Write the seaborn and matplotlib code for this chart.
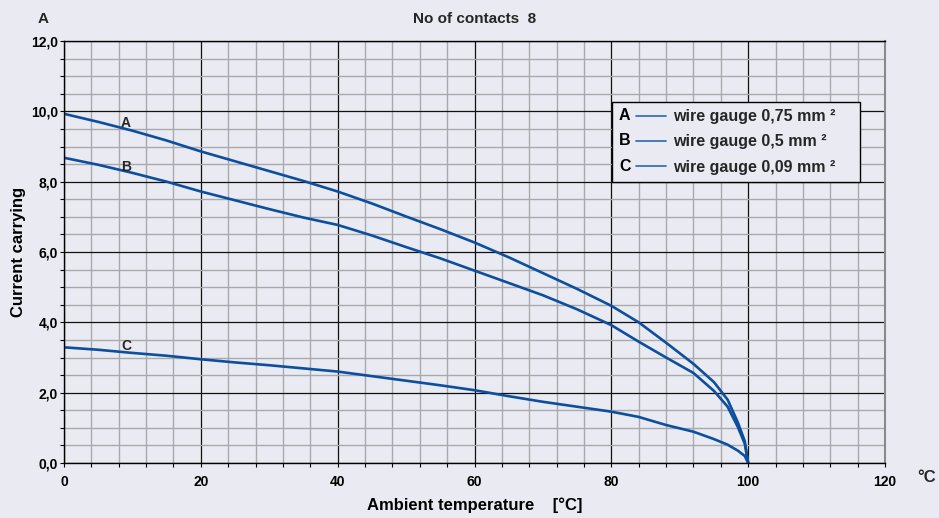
import numpy as np
import pandas as pd
import matplotlib
matplotlib.use('Agg')
import matplotlib.pyplot as plt
import seaborn as sns
from matplotlib.lines import Line2D
from matplotlib.legend_handler import HandlerLine2D
from matplotlib.text import Text
from matplotlib.ticker import MultipleLocator

# 数据：环境温度与载流能力
temperature = [0, 5, 10, 15, 20, 25, 30, 35, 40, 45, 50, 55, 60, 65, 70, 75,
               80, 84, 88, 92, 95, 97, 98.5, 99.5, 100]
current_a = [9.93, 9.70, 9.45, 9.17, 8.86, 8.58, 8.30, 8.02, 7.72, 7.38, 7.01,
             6.65, 6.27, 5.85, 5.40, 4.95, 4.47, 4.00, 3.42, 2.82, 2.30, 1.80,
             1.15, 0.62, 0.0]
current_b = [8.68, 8.48, 8.25, 8.00, 7.72, 7.47, 7.22, 6.98, 6.77, 6.47, 6.14,
             5.82, 5.47, 5.12, 4.77, 4.37, 3.92, 3.45, 3.00, 2.56, 2.05, 1.60,
             1.02, 0.55, 0.0]
current_c = [3.29, 3.22, 3.13, 3.05, 2.95, 2.86, 2.78, 2.69, 2.60, 2.47, 2.34,
             2.21, 2.07, 1.90, 1.74, 1.60, 1.46, 1.31, 1.08, 0.89, 0.68, 0.52,
             0.35, 0.20, 0.0]
curve_names = ['A', 'B', 'C']
legend_labels = ['wire gauge 0,75 mm \u00b2', 'wire gauge 0,5 mm \u00b2',
                 'wire gauge 0,09 mm \u00b2']
x_ticks = [0, 20, 40, 60, 80, 100, 120]
y_ticks = [0, 2, 4, 6, 8, 10, 12]
y_tick_labels = ['0,0', '2,0', '4,0', '6,0', '8,0', '10,0', '12,0']

BG = '#eaeaf2'
LINE = '#0b4f9e'
LEG_LINE = '#3a72b8'

df = pd.DataFrame({
    'temperature': temperature * 3,
    'current': current_a + current_b + current_c,
    'curve': [n for n in curve_names for _ in temperature],
})


class LetterLine(HandlerLine2D):
    """图例：字母 + 短线"""

    def __init__(self, letter, **kw):
        super().__init__(**kw)
        self.letter = letter

    def create_artists(self, legend, orig_handle, xdescent, ydescent, width,
                       height, fontsize, trans):
        start = 0.36 * width
        artists = super().create_artists(legend, orig_handle, xdescent - start,
                                         ydescent, width - start, height,
                                         fontsize, trans)
        label = Text(-xdescent + 0.12 * width, (height - ydescent) / 2,
                     self.letter, ha='center', va='center',
                     fontsize=fontsize, fontweight='bold', color='black')
        label.set_transform(trans)
        return artists + [label]


sns.set_theme(style='darkgrid')
plt.rcParams['font.family'] = ['Liberation Sans', 'DejaVu Sans']
plt.rcParams['font.weight'] = 'bold'
plt.rcParams['axes.labelweight'] = 'bold'

fig = plt.figure(figsize=(9.39, 5.18), dpi=100, facecolor=BG)
ax = fig.add_axes([64 / 939, 1 - 463 / 518, 821 / 939, 422 / 518])
ax.set_facecolor(BG)

sns.lineplot(data=df, x='temperature', y='current', hue='curve',
             palette=[LINE] * 3, estimator=None, sort=False, lw=1.9,
             legend=False, ax=ax)

ax.set_xlim(0, 120)
ax.set_ylim(0, 12)
ax.set_xticks(x_ticks)
ax.set_xticklabels([str(t) for t in x_ticks])
ax.set_yticks(y_ticks)
ax.set_yticklabels(y_tick_labels)
ax.xaxis.set_minor_locator(MultipleLocator(4))
ax.yaxis.set_minor_locator(MultipleLocator(0.5))

ax.grid(which='major', color='#111111', lw=0.9)
ax.grid(which='minor', color='#a9a9ad', lw=1.0)
ax.set_axisbelow(True)
for side in ['left', 'bottom', 'top']:
    ax.spines[side].set_visible(True)
    ax.spines[side].set_color('black')
    ax.spines[side].set_linewidth(1.0)
ax.spines['right'].set_visible(True)
ax.spines['right'].set_color('#8a8a8a')
ax.spines['right'].set_linewidth(1.5)

ax.tick_params(which='both', direction='out', length=3, width=0.8,
               color='black', bottom=True, left=True, labelsize=10,
               labelcolor='black')
ax.tick_params(axis='x', which='both', pad=5.5)
ax.tick_params(axis='y', which='both', pad=1.5)
for lab in ax.get_xticklabels() + ax.get_yticklabels():
    lab.set_fontweight('bold')

ax.set_xlabel('Ambient temperature    [°C]', fontsize=12, color='black')
ax.xaxis.set_label_coords(0.5, (463 - 505) / 422)
ax.xaxis.label.set_va('center')
ax.set_ylabel('Current carrying', fontsize=12, color='black')
ax.yaxis.set_label_coords((19 - 64) / 821, 0.5)
ax.yaxis.label.set_va('center')

ax.text(0.5, (463 - 19) / 422, 'No of contacts  8', transform=ax.transAxes,
        ha='center', va='center', fontsize=11, fontweight='bold')
ax.text((43 - 64) / 821, (463 - 19) / 422, 'A', transform=ax.transAxes,
        ha='center', va='center', fontsize=11, fontweight='bold')
ax.text((927 - 64) / 821, (463 - 477) / 422, '°C', transform=ax.transAxes,
        ha='center', va='center', fontsize=12, fontweight='bold')

# 曲线标注
ax.text(9.06, 9.67, 'A', ha='center', va='center', fontsize=10, fontweight='bold')
ax.text(9.06, 8.42, 'B', ha='center', va='center', fontsize=10, fontweight='bold')
ax.text(9.06, 3.34, 'C', ha='center', va='center', fontsize=10, fontweight='bold')

handles = [Line2D([], [], color=LEG_LINE, lw=1.3) for _ in curve_names]
handler_map = {h: LetterLine(n) for h, n in zip(handles, curve_names)}
leg_x0 = (612 - 64) / 821
leg_y1 = (463 - 102) / 422
leg_w = (860 - 612) / 821
leg = ax.legend(handles, legend_labels, handler_map=handler_map,
                loc='upper left', mode='expand',
                bbox_to_anchor=(leg_x0, leg_y1 - 0.2, leg_w, 0.2),
                borderaxespad=0, frameon=True, fancybox=False,
                edgecolor='black', facecolor=BG, framealpha=1,
                fontsize=11.5, handlelength=2.9, handletextpad=0.45,
                borderpad=0.45, labelspacing=0.64)
leg.get_frame().set_linewidth(1.0)
for t in leg.get_texts():
    t.set_fontweight('bold')

fig.savefig('out.png', dpi=100, facecolor=BG)
